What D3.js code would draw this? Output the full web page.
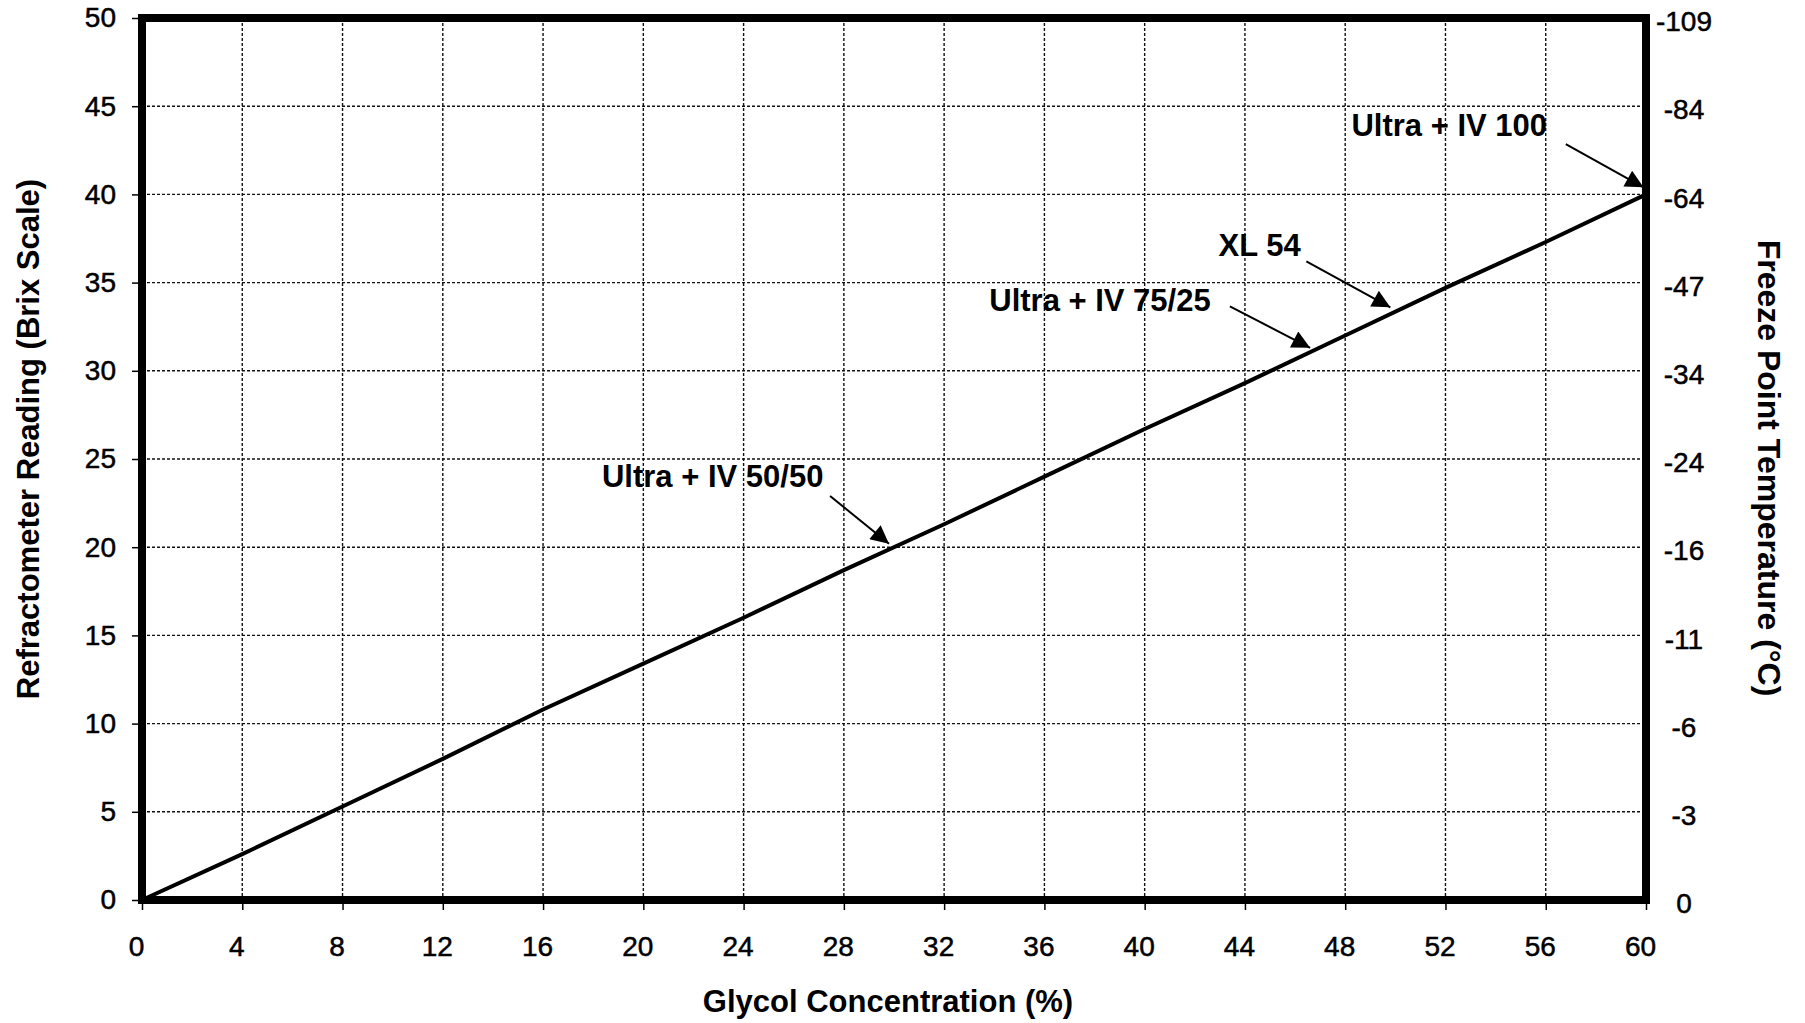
<!DOCTYPE html>
<html>
<head>
<meta charset="utf-8">
<script src="https://cdn.jsdelivr.net/npm/d3@7"></script>
<style>
  body { margin: 0; background: #fff; }
  svg text { font-family: "Liberation Sans", Arial, Helvetica, sans-serif; fill: #000; }
</style>
</head>
<body>
<div id="main"></div>
<script>
// chart data
const glycolPct   = [0, 4, 8, 12, 16, 20, 24, 28, 32, 36, 40, 44, 48, 52, 56, 60];
const brixReading = [0, 2.6, 5.3, 8.0, 10.8, 13.4, 16.0, 18.7, 21.3, 24.0, 26.7, 29.3, 32.0, 34.7, 37.3, 40.0];

const xTicks = [0, 4, 8, 12, 16, 20, 24, 28, 32, 36, 40, 44, 48, 52, 56, 60];
const yTicks = [0, 5, 10, 15, 20, 25, 30, 35, 40, 45, 50];
const freezeLabels = ["0", "-3", "-6", "-11", "-16", "-24", "-34", "-47", "-64", "-84", "-109"];

// product callouts (data units: label anchor, arrow start, arrow tip)
const calloutLabels = ["Ultra + IV 100", "XL 54", "Ultra + IV 75/25", "Ultra + IV 50/50"];
const calloutText   = [[48.25, 43.3], [42.95, 36.5], [33.8, 33.4], [18.35, 23.4]];
const calloutFrom   = [[56.8, 42.85], [46.45, 36.2], [43.4, 33.65], [27.45, 22.9]];
const calloutTo     = [[59.9, 40.4], [49.8, 33.6], [46.6, 31.3], [29.8, 20.2]];

const ctx = {
    width: 1805,
    height: 1023,
    margin: {top: 18, right: 159, bottom: 123, left: 142}
};

function createViz() {
    const svg = d3.select("#main").append("svg")
        .attr("width", ctx.width)
        .attr("height", ctx.height);

    const x = d3.scaleLinear().domain([0, 60]).range([ctx.margin.left, ctx.width - ctx.margin.right]);
    const y = d3.scaleLinear().domain([0, 50]).range([ctx.height - ctx.margin.bottom, ctx.margin.top]);

    const x0 = x.range()[0], x1 = x.range()[1];
    const y0 = y.range()[0], y1 = y.range()[1];

    // dotted grid
    const grid = svg.append("g").attr("class", "grid");
    grid.selectAll(".vgrid")
        .data(xTicks)
        .enter().append("line")
        .attr("x1", d => x(d)).attr("x2", d => x(d))
        .attr("y1", y1).attr("y2", y0)
        .attr("stroke", "#111").attr("stroke-width", 1.4)
        .attr("stroke-dasharray", "3,2");
    grid.selectAll(".hgrid")
        .data(yTicks)
        .enter().append("line")
        .attr("x1", x0).attr("x2", x1)
        .attr("y1", d => y(d)).attr("y2", d => y(d))
        .attr("stroke", "#111").attr("stroke-width", 1.4)
        .attr("stroke-dasharray", "3,2");

    // the refractometer line
    const line = d3.line().x(d => x(d[0])).y(d => y(d[1]));
    svg.append("path")
        .datum(d3.zip(glycolPct, brixReading))
        .attr("d", line)
        .attr("fill", "none")
        .attr("stroke", "#000")
        .attr("stroke-width", 4);

    // arrow marker
    svg.append("defs").append("marker")
        .attr("id", "arrowhead")
        .attr("viewBox", "0 0 10 10")
        .attr("refX", 10).attr("refY", 5)
        .attr("markerUnits", "userSpaceOnUse")
        .attr("markerWidth", 20).attr("markerHeight", 18)
        .attr("orient", "auto")
        .append("path")
        .attr("d", "M0,0 L10,5 L0,10 Z")
        .attr("fill", "#000");

    const callouts = calloutLabels.map((label, i) => ({
        label: label, text: calloutText[i], from: calloutFrom[i], to: calloutTo[i]
    }));

    svg.selectAll(".callout-arrow")
        .data(callouts)
        .enter().append("line")
        .attr("class", "callout-arrow")
        .attr("x1", d => x(d.from[0])).attr("y1", d => y(d.from[1]))
        .attr("x2", d => x(d.to[0])).attr("y2", d => y(d.to[1]))
        .attr("stroke", "#000").attr("stroke-width", 2)
        .attr("marker-end", "url(#arrowhead)");

    svg.selectAll(".callout-label")
        .data(callouts)
        .enter().append("text")
        .attr("class", "callout-label")
        .attr("x", d => x(d.text[0])).attr("y", d => y(d.text[1]))
        .style("font-size", "31px")
        .style("font-weight", "bold")
        .text(d => d.label);

    // heavy frame
    svg.append("rect")
        .attr("x", x0).attr("y", y1)
        .attr("width", x1 - x0).attr("height", y0 - y1)
        .attr("fill", "none")
        .attr("stroke", "#000")
        .attr("stroke-width", 8);

    // bottom axis
    const xAxis = svg.append("g")
        .attr("transform", `translate(0,${y0})`)
        .call(d3.axisBottom(x).tickValues(xTicks).tickSize(10).tickSizeOuter(0).tickPadding(26));
    xAxis.select(".domain").remove();
    xAxis.selectAll("line").attr("stroke", "#000").attr("stroke-width", 1.5);
    xAxis.selectAll("text")
        .style("font-size", "28px")
        .attr("dx", "-6")
        .attr("fill", "#000")
        .attr("stroke", "#000").attr("stroke-width", 0.5);

    // left axis
    const yAxis = svg.append("g")
        .attr("transform", `translate(${x0},0)`)
        .call(d3.axisLeft(y).tickValues(yTicks).tickSize(10).tickSizeOuter(0).tickPadding(16));
    yAxis.select(".domain").remove();
    yAxis.selectAll("line").attr("stroke", "#000").attr("stroke-width", 1.5);
    yAxis.selectAll("text")
        .style("font-size", "28px")
        .attr("fill", "#000")
        .attr("stroke", "#000").attr("stroke-width", 0.5);

    // right axis: freeze point labels
    const yRight = svg.append("g")
        .attr("transform", `translate(${x1},0)`)
        .call(d3.axisRight(y).tickValues(yTicks).tickSize(0).tickPadding(38)
            .tickFormat((d, i) => freezeLabels[i]));
    yRight.select(".domain").remove();
    yRight.selectAll("text")
        .style("font-size", "28px")
        .attr("text-anchor", "middle")
        .attr("dy", "0.45em")
        .attr("fill", "#000")
        .attr("stroke", "#000").attr("stroke-width", 0.5);

    // axis titles
    svg.append("text")
        .attr("x", (x0 + x1) / 2 - 6)
        .attr("y", 1012)
        .attr("text-anchor", "middle")
        .style("font-size", "31px")
        .style("font-weight", "bold")
        .text("Glycol Concentration (%)");

    svg.append("text")
        .attr("transform", "translate(39,439) rotate(-90)")
        .attr("text-anchor", "middle")
        .style("font-size", "31px")
        .style("font-weight", "bold")
        .text("Refractometer Reading (Brix Scale)");

    svg.append("text")
        .attr("transform", "translate(1758,468) rotate(90)")
        .attr("text-anchor", "middle")
        .style("font-size", "32px")
        .style("font-weight", "bold")
        .text("Freeze Point Temperature (°C)");
}

createViz();
</script>
</body>
</html>
